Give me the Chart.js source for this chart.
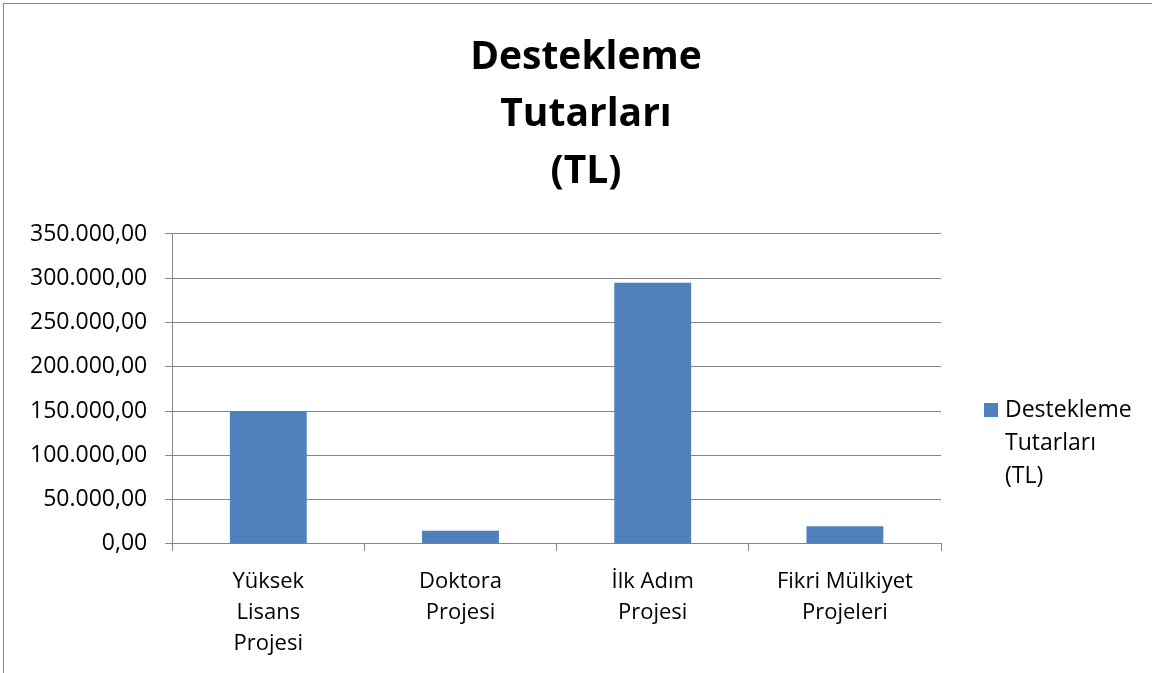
<!DOCTYPE html>
<html>
<head>
<meta charset="utf-8">
<script src="https://cdn.jsdelivr.net/npm/chart.js@4"></script>
<style>
    html, body { margin: 0; padding: 0; background: #fff; overflow: hidden; }
    #box {
        position: absolute; left: 3px; top: 3px; width: 1164px; height: 670px;
        border-left: 1px solid #868686; border-top: 1px solid #868686;
    }
</style>
</head>
<body>
<div id="box"><canvas id="myChart"></canvas></div>
<script>
const categories = [['Yüksek', 'Lisans', 'Projesi'], ['Doktora', 'Projesi'], ['İlk Adım', 'Projesi'], ['Fikri Mülkiyet', 'Projeleri']];
const values = [150000, 15000, 295000, 20000];
const seriesName = ['Destekleme', 'Tutarları', '(TL)'];
const titleLines = ['Destekleme', 'Tutarları', '(TL)'];

const font = "'Open Sans', 'Noto Sans', sans-serif";

function trNumber(v) {
    var s = Math.round(v).toString().replace(/\B(?=(\d{3})+(?!\d))/g, '.');
    return s + ',00';
}

// title centred on the whole chart, not on the padded area
const centerTitle = {
    id: 'centerTitle',
    afterDraw(chart) {
        const ctx = chart.ctx;
        const box = chart.titleBlock;
        const lh = 39 * 1.47;
        ctx.save();
        ctx.fillStyle = '#000';
        ctx.font = 'bold 39px ' + font;
        ctx.textAlign = 'center';
        ctx.textBaseline = 'middle';
        for (var i = 0; i < titleLines.length; i++) {
            ctx.fillText(titleLines[i], chart.width / 2, box.top + 25 + lh * (i + 0.5));
        }
        ctx.restore();
    }
};

// legend drawn by hand so the series name can wrap over three lines
const sideLegend = {
    id: 'sideLegend',
    afterDraw(chart) {
        const ctx = chart.ctx;
        const area = chart.chartArea;
        const x = area.right + 43;
        const y = area.top + 176;
        ctx.save();
        ctx.fillStyle = '#4F81BD';
        ctx.fillRect(x, y - 7, 14, 14);
        ctx.fillStyle = '#000';
        ctx.font = '23px ' + font;
        ctx.textBaseline = 'middle';
        for (var i = 0; i < seriesName.length; i++) {
            ctx.fillText(seriesName[i], x + 21, y + i * 33);
        }
        ctx.restore();
    }
};

var canvas = document.getElementById('myChart');
canvas.width = 1164;
canvas.height = 670;

new Chart(canvas.getContext('2d'), {
    type: 'bar',
    data: {
        labels: categories,
        datasets: [{
            label: seriesName.join(' '),
            data: values,
            backgroundColor: '#4F81BD',
            borderWidth: 0,
            barPercentage: 0.4,
            categoryPercentage: 1
        }]
    },
    options: {
        responsive: false,
        animation: false,
        layout: {
            padding: { left: 8, right: 227, top: 0, bottom: 0 }
        },
        plugins: {
            legend: { display: false },
            tooltip: { enabled: false },
            title: {
                display: true,
                text: titleLines,
                color: 'rgba(0,0,0,0)',
                font: { family: font, size: 39, weight: 'bold', lineHeight: 1.47 },
                padding: { top: 25, bottom: 33 }
            }
        },
        scales: {
            x: {
                offset: true,
                grid: {
                    offset: true,
                    drawOnChartArea: false,
                    drawTicks: true,
                    tickLength: 7,
                    color: '#868686'
                },
                border: { color: '#868686', width: 1 },
                ticks: {
                    color: '#000',
                    font: { family: font, size: 22, lineHeight: 1.41 },
                    padding: 15,
                    maxRotation: 0,
                    autoSkip: false
                }
            },
            y: {
                min: 0,
                max: 350000,
                ticks: {
                    stepSize: 50000,
                    color: '#000',
                    font: { family: font, size: 23 },
                    padding: 18,
                    callback: function(v) { return trNumber(v); }
                },
                grid: {
                    color: '#868686',
                    tickLength: 7,
                    lineWidth: 1
                },
                border: { color: '#868686', width: 1 }
            }
        }
    },
    plugins: [centerTitle, sideLegend]
});
</script>
</body>
</html>
